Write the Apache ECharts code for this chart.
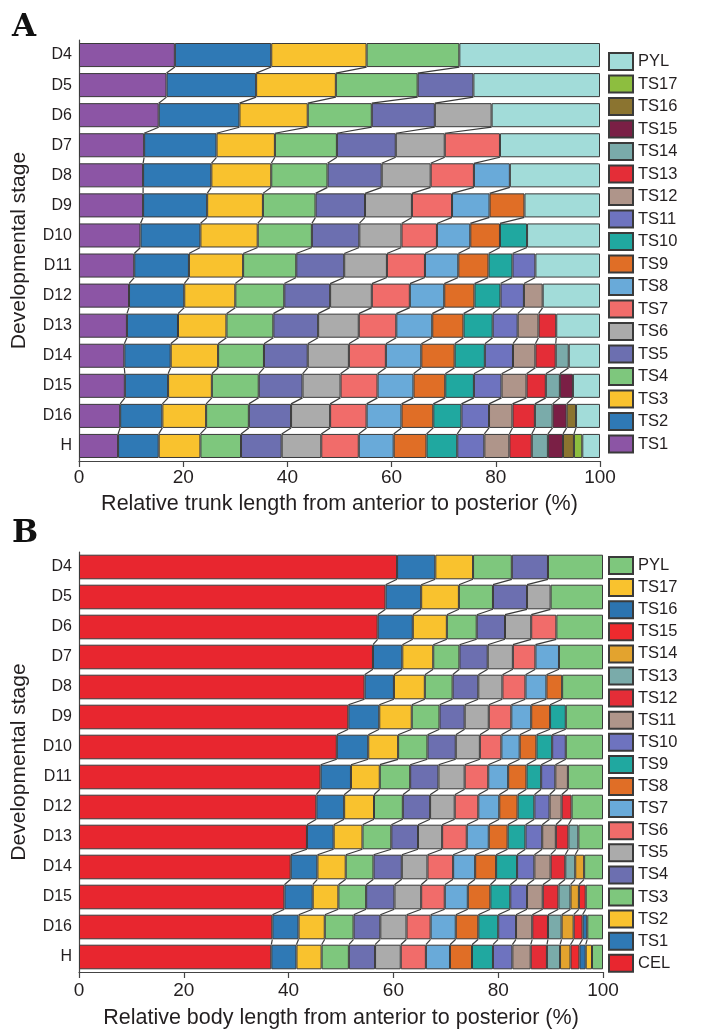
<!DOCTYPE html>
<html>
<head>
<meta charset="utf-8">
<script src="https://cdn.jsdelivr.net/npm/echarts@6/dist/echarts.min.js"></script>
<style>
html, body { margin: 0; padding: 0; background: #fff; }
#chart { width: 703px; height: 1030px; }
</style>
</head>
<body>
<div id="chart"></div>
<script>
// developmental stages, top to bottom
var stages = ['D4', 'D5', 'D6', 'D7', 'D8', 'D9', 'D10', 'D11', 'D12', 'D13', 'D14', 'D15', 'D16', 'H'];

// A: where each trunk segment ends (%), TS1..TSn per stage, PYL fills up to 100
var trunkEnds = [
	[18.4, 36.9, 55.2, 73.0],
	[16.8, 34.0, 49.3, 65.0, 75.7],
	[15.3, 30.8, 43.9, 56.2, 68.3, 79.2],
	[12.5, 26.4, 37.6, 49.5, 60.8, 70.2, 80.8],
	[12.3, 25.4, 36.9, 47.7, 58.1, 67.5, 75.8, 82.7],
	[12.3, 24.6, 35.3, 45.4, 54.9, 63.9, 71.6, 78.8, 85.5],
	[11.8, 23.3, 34.3, 44.7, 53.8, 61.9, 68.7, 75.1, 80.8, 86.0],
	[10.6, 21.1, 31.5, 41.7, 50.9, 59.1, 66.4, 72.8, 78.6, 83.2, 87.6],
	[9.6, 20.2, 30.0, 39.4, 48.2, 56.2, 63.5, 70.1, 75.9, 80.9, 85.4, 89.0],
	[9.2, 19.0, 28.3, 37.3, 45.9, 53.7, 60.9, 67.8, 73.8, 79.4, 84.2, 88.2, 91.6],
	[8.7, 17.6, 26.7, 35.5, 43.9, 51.8, 58.9, 65.7, 72.1, 77.9, 83.3, 87.6, 91.5, 94.0],
	[8.8, 17.1, 25.5, 34.5, 42.9, 50.2, 57.3, 64.2, 70.3, 75.8, 81.1, 85.9, 89.6, 92.3, 94.8],
	[7.9, 16.0, 24.4, 32.6, 40.7, 48.2, 55.2, 61.9, 68.0, 73.4, 78.7, 83.2, 87.5, 90.9, 93.6, 95.4],
	[7.5, 15.3, 23.3, 31.1, 38.9, 46.5, 53.7, 60.4, 66.7, 72.6, 77.8, 82.6, 86.9, 90.0, 92.9, 95.0, 96.6]
];
var trunkNames = ['TS1', 'TS2', 'TS3', 'TS4', 'TS5', 'TS6', 'TS7', 'TS8', 'TS9', 'TS10',
	'TS11', 'TS12', 'TS13', 'TS14', 'TS15', 'TS16', 'TS17', 'PYL'];
var trunkColors = ['#8c55a5', '#2f79b5', '#f9c22e', '#7ec77d', '#6c6fb0', '#ababab', '#f16c6a', '#69aad9', '#e06e26',
	'#20a8a0', '#6e73bf', '#af958a', '#e42d37', '#7aabaa', '#7a1f45', '#8b7430', '#8dbe3f', '#a2dcd9'];

// B: where each body segment ends (%), CEL then TS1..TSn, PYL fills up to 100
var bodyEnds = [
	[60.7, 68.0, 75.2, 82.6, 89.5],
	[58.5, 65.3, 72.5, 79.0, 85.5, 90.0],
	[57.0, 63.7, 70.2, 75.9, 81.3, 86.3, 91.1],
	[56.1, 61.7, 67.6, 72.6, 78.0, 82.8, 87.1, 91.6],
	[54.5, 60.1, 66.0, 71.3, 76.2, 80.8, 85.2, 89.2, 92.2],
	[51.4, 57.3, 63.5, 68.8, 73.6, 78.2, 82.5, 86.3, 89.9, 92.9],
	[49.2, 55.2, 60.9, 66.5, 71.9, 76.5, 80.6, 84.1, 87.3, 90.3, 92.9],
	[46.1, 51.9, 57.4, 63.2, 68.6, 73.6, 78.1, 81.9, 85.4, 88.2, 90.9, 93.3],
	[45.3, 50.6, 56.3, 61.8, 67.0, 71.7, 76.2, 80.2, 83.7, 86.9, 89.8, 92.1, 94.0],
	[43.5, 48.6, 54.1, 59.6, 64.7, 69.3, 74.0, 78.2, 81.8, 85.2, 88.4, 91.0, 93.4, 95.3],
	[40.4, 45.5, 50.9, 56.2, 61.6, 66.5, 71.4, 75.6, 79.6, 83.6, 86.9, 90.0, 92.8, 94.7, 96.4],
	[39.2, 44.6, 49.5, 54.8, 60.2, 65.3, 69.8, 74.2, 78.5, 82.3, 85.5, 88.5, 91.5, 93.8, 95.4, 96.7],
	[36.9, 41.9, 46.9, 52.4, 57.5, 62.5, 67.1, 71.9, 76.2, 80.0, 83.4, 86.5, 89.5, 92.1, 94.4, 96.1, 97.0],
	[36.7, 41.5, 46.3, 51.5, 56.5, 61.4, 66.2, 70.8, 75.0, 79.0, 82.7, 86.2, 89.3, 91.8, 93.8, 95.5, 96.7, 97.9]
];
var bodyNames = ['CEL', 'TS1', 'TS2', 'TS3', 'TS4', 'TS5', 'TS6', 'TS7', 'TS8', 'TS9', 'TS10',
	'TS11', 'TS12', 'TS13', 'TS14', 'TS15', 'TS16', 'TS17', 'PYL'];
var bodyColors = ['#e8262f', '#2f79b5', '#f9c22e', '#7ec77d', '#6c6fb0', '#ababab', '#f16c6a', '#69aad9', '#e06e26',
	'#20a8a0', '#6e73bf', '#af958a', '#e42d37', '#7aabaa', '#e3a32e', '#ee2a2e', '#2c74b0', '#f9c22e', '#7ec77d'];

var FONT = 'Liberation Sans, Arial, Helvetica, sans-serif';
var INK = '#231f20';
var EDGE = '#3a3a3a';

// stacked segment series for one panel, the last name (PYL) fills to 100
function segmentSeries(ends, names, colors, prefix, axisIdx, barRatio) {
	var list = [];
	names.forEach(function(name, j) {
		var last = j === names.length - 1;
		var data = ends.map(function(row) {
			if (last) return +(100 - row[row.length - 1]).toFixed(2);
			if (j >= row.length) return '-';
			return +(row[j] - (j ? row[j - 1] : 0)).toFixed(2);
		});
		list.push({
			type: 'bar',
			name: prefix + name,
			stack: prefix,
			xAxisIndex: axisIdx,
			yAxisIndex: axisIdx,
			barWidth: barRatio * 100 + '%',
			data: data,
			itemStyle: { color: colors[j], borderColor: EDGE, borderWidth: 1 },
			emphasis: { disabled: true },
			animation: false
		});
	});
	return list;
}

// slanted lines that join the same boundary of two neighbouring stages
function connectorSeries(ends, axisIdx, barRatio) {
	var data = [];
	for (var i = 0; i < ends.length - 1; i++) {
		for (var k = 0; k < ends[i].length; k++) {
			data.push([ends[i][k], ends[i + 1][k], i]);
		}
	}
	return {
		type: 'custom',
		xAxisIndex: axisIdx,
		yAxisIndex: axisIdx,
		encode: { x: [0, 1], y: 2 },
		data: data,
		silent: true,
		animation: false,
		z: 3,
		renderItem: function(params, api) {
			var up = api.coord([api.value(0), api.value(2)]);
			var down = api.coord([api.value(1), api.value(2) + 1]);
			var half = api.size([0, 1])[1] * barRatio / 2;
			return {
				type: 'line',
				shape: { x1: up[0], y1: up[1] + half, x2: down[0], y2: down[1] - half },
				style: { stroke: EDGE, lineWidth: 1.2 }
			};
		}
	};
}

function xAxisFor(gridIdx, title, gap, labelGap) {
	return {
		gridIndex: gridIdx, type: 'value', min: 0, max: 100, interval: 20,
		name: title, nameLocation: 'middle', nameGap: gap,
		nameTextStyle: { fontSize: 21.5, color: INK, fontFamily: FONT },
		axisLine: { show: true, lineStyle: { color: '#444', width: 1.2 } },
		axisTick: { show: true, length: 6, lineStyle: { color: '#444', width: 1.2 } },
		axisLabel: { fontSize: 19, color: INK, fontFamily: FONT, margin: labelGap },
		splitLine: { show: false }
	};
}

function yAxisFor(gridIdx) {
	return {
		gridIndex: gridIdx, type: 'category', data: stages, inverse: true,
		name: 'Developmental stage', nameLocation: 'middle', nameGap: 49,
		nameTextStyle: { fontSize: 21, color: INK, fontFamily: FONT },
		axisLine: { show: true, lineStyle: { color: '#444', width: 1.2 } },
		axisTick: { show: false },
		axisLabel: { fontSize: 16, color: INK, fontFamily: FONT, margin: 7 }
	};
}

function legendFor(names, prefix, top, gap) {
	return {
		data: names.map(function(n) { return prefix + n; }).reverse(),
		orient: 'vertical', left: 608, top: top, padding: 0,
		itemWidth: 24, itemHeight: 17, itemGap: gap,
		icon: 'rect', selectedMode: false,
		formatter: function(n) { return n.slice(prefix.length); },
		textStyle: { fontSize: 16.5, color: INK, fontFamily: FONT, lineHeight: 17, padding: [0, 0, 0, 0] }
	};
}

var chart = echarts.init(document.getElementById('chart'), null, { renderer: 'canvas' });

var series = []
	.concat(segmentSeries(trunkEnds, trunkNames, trunkColors, 'A|', 0, 0.8))
	.concat(segmentSeries(bodyEnds, bodyNames, bodyColors, 'B|', 1, 0.82))
	.concat([connectorSeries(trunkEnds, 0, 0.8), connectorSeries(bodyEnds, 1, 0.82)]);

chart.setOption({
	backgroundColor: '#fff',
	animation: false,
	grid: [
		{ left: 79, top: 40, width: 521, height: 421 },
		{ left: 79, top: 552, width: 524, height: 421 }
	],
	xAxis: [
		xAxisFor(0, 'Relative trunk length from anterior to posterior (%)', 32, 7),
		xAxisFor(1, 'Relative body length from anterior to posterior (%)', 35, 9)
	],
	yAxis: [yAxisFor(0), yAxisFor(1)],
	legend: [legendFor(trunkNames, 'A|', 52, 3.5), legendFor(bodyNames, 'B|', 556, 3.1)],
	graphic: [
		{ type: 'text', left: 12, top: 12, style: { text: 'A', font: 'bold 31px "DejaVu Serif", serif', fill: '#111' } },
		{ type: 'text', left: 12, top: 518, style: { text: 'B', font: 'bold 31px "DejaVu Serif", serif', fill: '#111' } }
	],
	series: series
});
</script>
</body>
</html>
